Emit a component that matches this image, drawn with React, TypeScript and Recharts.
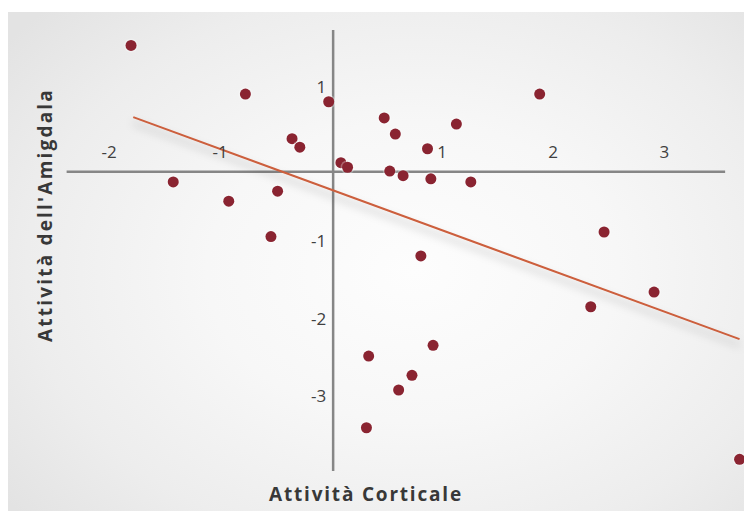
import React from "react";
import {
  ScatterChart,
  Scatter,
  XAxis,
  YAxis,
  ReferenceLine,
  ReferenceDot,
} from "recharts";

// cortical activity (x) and amygdala activity (y) for each subject
const corticalActivity = [
  -1.82, -0.79, -0.04, 0.46, 1.86, 0.56, 1.11, -0.37, -0.3, 0.85, 0.07, 0.13, 0.51, 0.63, 0.88,
  1.24, -1.44, -0.94, -0.5, -0.56, 0.79, 2.44, 2.32, 2.89, 0.32, 0.9, 0.71, 0.59, 0.3, 3.66,
];
const amygdalaActivity = [
  1.64, 1.01, 0.91, 0.7, 1.01, 0.49, 0.62, 0.43, 0.32, 0.3, 0.12, 0.06, 0.01, -0.05, -0.09,
  -0.13, -0.13, -0.38, -0.25, -0.84, -1.09, -0.78, -1.75, -1.56, -2.39, -2.25, -2.64, -2.83,
  -3.32, -3.73,
];

// regression line endpoints
const fitX = [-1.8, 3.66];
const fitY = [0.71, -2.17];

// extent of the drawn cross axes
const xAxisExtent = [-2.4, 3.53];
const yAxisExtent = [1.84, -3.88];

const xTicks = [-2, -1, 1, 2, 3];
const yTicks = [1, -1, -2, -3];

const points = corticalActivity.map((x, i) => ({ x, y: amygdalaActivity[i] }));

const W = 744;
const H = 511;
const AXIS = "#868686";
const TICK = "#404040";
const DOT = "#8a2431";
const FIT = "#cc5e3c";

const XTickLabel = (props: any) => (
  <text
    x={props.cx - 2}
    y={props.cy - 20}
    textAnchor="middle"
    dominantBaseline="central"
    fontFamily="'Open Sans', sans-serif"
    fontSize={17}
    fill={TICK}
  >
    {props.value}
  </text>
);

const YTickLabel = (props: any) => (
  <text
    x={props.cx - 7}
    y={props.cy - 8}
    textAnchor="end"
    dominantBaseline="central"
    fontFamily="'Open Sans', sans-serif"
    fontSize={17}
    fill={TICK}
  >
    {props.value}
  </text>
);

const Dot = (props: any) => (
  <g>
    <circle cx={props.cx} cy={props.cy} r={7} fill="#ffffff" fillOpacity={0.3} />
    <circle cx={props.cx} cy={props.cy} r={5.5} fill={DOT} />
  </g>
);

export default function App() {
  return (
    <div style={{ position: "absolute", left: 0, top: 0, width: W, height: H, background: "#ffffff" }}>
      <div
        style={{
          position: "absolute",
          left: 8,
          top: 12,
          width: W - 8,
          height: H - 12,
          background:
            "radial-gradient(ellipse 70% 75% at 55% 52%, #fdfdfd 0%, #f7f7f7 40%, #ededed 75%, #e3e3e3 100%)",
        }}
      />
      <div style={{ position: "absolute", left: 0, top: 0 }}>
        <ScatterChart width={W} height={H} margin={{ top: 0, right: 0, bottom: 0, left: 0 }}>
          <defs>
            <filter id="fitShadow" x="-10%" y="-50%" width="120%" height="200%">
              <feDropShadow dx="0" dy="6" stdDeviation="4" floodColor="#000000" floodOpacity="0.28" />
            </filter>
          </defs>
          <XAxis type="number" dataKey="x" domain={[-3, 3.7]} hide allowDataOverflow />
          <YAxis type="number" dataKey="y" domain={[-4.4, 2.23]} hide allowDataOverflow />

          <ReferenceLine
            segment={[
              { x: xAxisExtent[0], y: 0 },
              { x: xAxisExtent[1], y: 0 },
            ]}
            stroke={AXIS}
            strokeWidth={2.5}
          />
          <ReferenceLine
            segment={[
              { x: 0, y: yAxisExtent[0] },
              { x: 0, y: yAxisExtent[1] },
            ]}
            stroke={AXIS}
            strokeWidth={2.5}
          />

          {xTicks.map((t) => (
            <ReferenceDot key={"x" + t} x={t} y={0} r={0} shape={(p: any) => <XTickLabel {...p} value={t} />} />
          ))}
          {yTicks.map((t) => (
            <ReferenceDot key={"y" + t} x={0} y={t} r={0} shape={(p: any) => <YTickLabel {...p} value={t} />} />
          ))}

          <ReferenceLine
            segment={[
              { x: fitX[0], y: fitY[0] },
              { x: fitX[1], y: fitY[1] },
            ]}
            stroke={FIT}
            strokeWidth={2}
            filter="url(#fitShadow)"
          />

          <Scatter data={points} shape={Dot} isAnimationActive={false} />
        </ScatterChart>
      </div>
      <div
        style={{
          position: "absolute",
          left: 366 - 120,
          top: 483,
          width: 240,
          textAlign: "center",
          fontFamily: "'Open Sans', sans-serif",
          fontWeight: 700,
          fontSize: 19,
          letterSpacing: 1.8,
          color: "#383838",
          lineHeight: "22px",
        }}
      >
        Attività Corticale
      </div>
      <div
        style={{
          position: "absolute",
          left: 45 - 150,
          top: 215 - 11,
          width: 300,
          textAlign: "center",
          transform: "rotate(-90deg)",
          fontFamily: "'Open Sans', sans-serif",
          fontWeight: 700,
          fontSize: 19,
          letterSpacing: 2.2,
          color: "#383838",
          lineHeight: "22px",
        }}
      >
        Attività dell'Amigdala
      </div>
    </div>
  );
}
